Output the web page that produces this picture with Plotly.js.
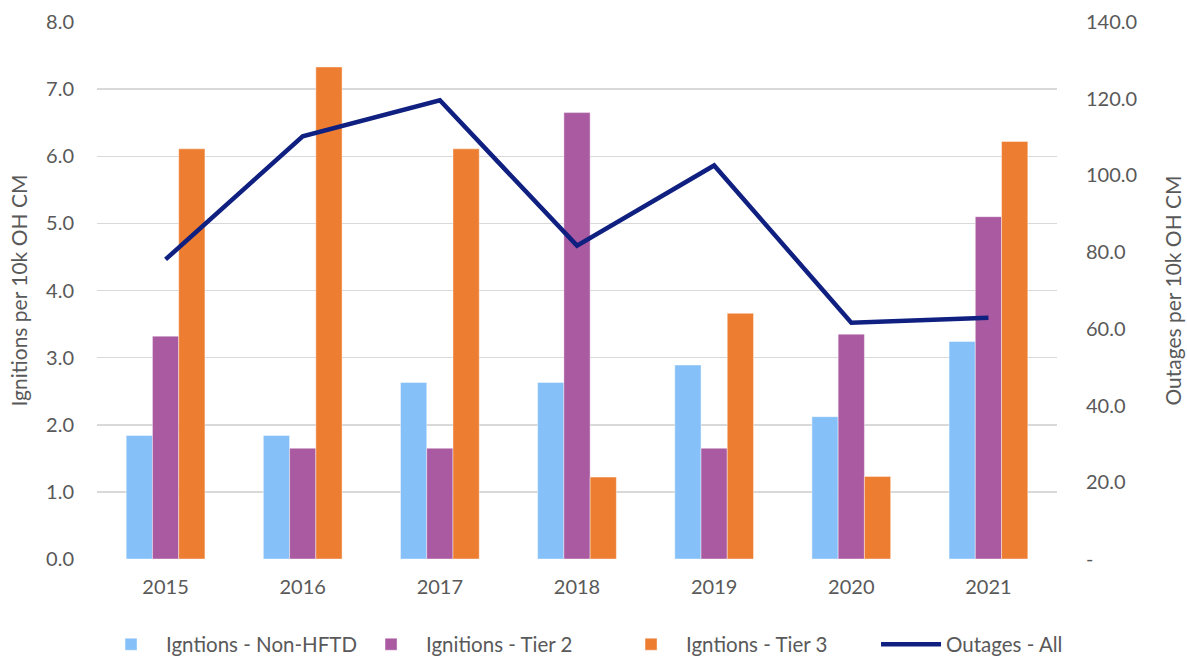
<!DOCTYPE html>
<html>
<head>
<meta charset="utf-8">
<script src="https://cdn.plot.ly/plotly-3.0.1.min.js"></script>
<style>html,body{margin:0;padding:0;background:#fff;}#chart{width:1187px;height:658px;}</style>
</head>
<body>
<div id="chart"></div>
<script>
const years = ['2015','2016','2017','2018','2019','2020','2021'];
const nonHFTD = [1.84, 1.84, 2.63, 2.63, 2.89, 2.12, 3.24];
const tier2 = [3.32, 1.65, 1.65, 6.65, 1.65, 3.35, 5.10];
const tier3 = [6.11, 7.33, 6.11, 1.22, 3.66, 1.23, 6.22];
const outagesAll = [78.1, 110.2, 119.6, 81.7, 102.6, 61.6, 62.9];
const leftTicks = [0,1,2,3,4,5,6,7,8];
const rightTicks = [0,20,40,60,80,100,120,140];
const rightTickText = ['-','20.0','40.0','60.0','80.0','100.0','120.0','140.0'];

const fontFam = 'Lato, "Open Sans", sans-serif';
const grey = '#595959';
const barLine = {color:'rgba(255,255,255,0.7)', width:0.6};

const traces = [
  {type:'bar', name:'Igntions - Non-HFTD', x:years, y:nonHFTD, marker:{color:'#85C0F9', line:barLine}, hoverinfo:'y'},
  {type:'bar', name:'Ignitions - Tier 2', x:years, y:tier2, marker:{color:'#A95AA1', line:barLine}, hoverinfo:'y'},
  {type:'bar', name:'Igntions - Tier 3', x:years, y:tier3, marker:{color:'#ED7D31', line:barLine}, hoverinfo:'y'},
  {type:'scatter', mode:'lines', name:'Outages - All', x:years, y:outagesAll, yaxis:'y2', line:{color:'#0F2080', width:4.5}}
];

const layout = {
  width:1187, height:658,
  margin:{l:97, r:130, t:22, b:99, pad:0, autoexpand:false},
  paper_bgcolor:'#fff', plot_bgcolor:'#fff',
  font:{family:fontFam, size:20, color:grey},
  barmode:'group', bargap:0.426, bargroupgap:0,
  showlegend:true,
  legend:{orientation:'h', x:-0.001, xanchor:'left', y:-0.159, yanchor:'middle', font:{size:20.5, color:grey}, traceorder:'normal', itemwidth:60, entrywidth:185, entrywidthmode:'pixels'},
  xaxis:{type:'category', showgrid:false, showline:false, zeroline:false, ticks:'', tickfont:{size:20, color:grey}, ticklabelstandoff:14},
  yaxis:{range:[0,8], tickvals:leftTicks, tickformat:'.1f', tickfont:{size:20}, showgrid:true, gridcolor:'#D9D9D9', gridwidth:1.5, zeroline:false, showline:false, ticks:'', ticklabelstandoff:22,
    title:{text:'Ignitions per 10k OH CM', font:{size:21, color:grey}, standoff:12}},
  yaxis2:{range:[0,140], overlaying:'y', side:'right', tickvals:rightTicks, ticktext:rightTickText, tickfont:{size:20}, showgrid:false, zeroline:false, showline:false, ticks:'', ticklabelstandoff:28,
    title:{text:'Outages per 10k OH CM', font:{size:21, color:grey}, standoff:30}}
};

Plotly.newPlot('chart', traces, layout, {staticPlot:true, displayModeBar:false});
</script>
</body>
</html>
